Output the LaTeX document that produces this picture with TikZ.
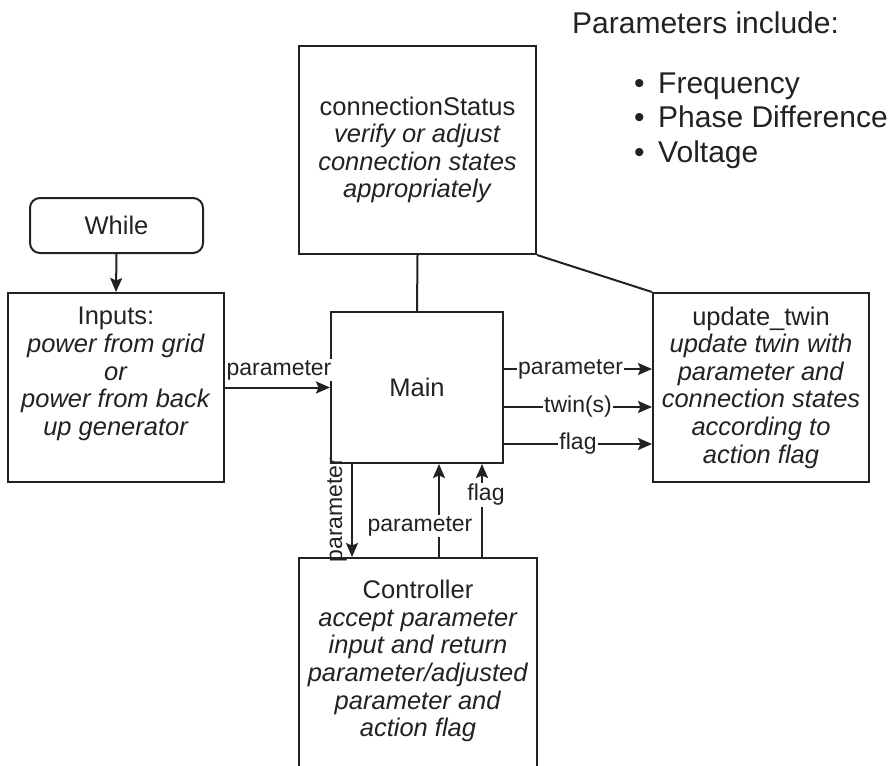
\documentclass[tikz,border=0pt]{standalone}
\usepackage{fontspec}
\setmainfont{Liberation Sans}
\usetikzlibrary{arrows.meta}
\definecolor{ink}{HTML}{222222}
\begin{document}
\begin{tikzpicture}[x=1pt,y=-1pt,
  box/.style={draw=ink, line width=2pt, inner sep=0pt},
  txt/.style={font=\fontsize{25.5}{27.6}\selectfont, align=center, text=ink, inner sep=0pt},
  lbl/.style={font=\fontsize{23}{25}\selectfont, fill=white, inner sep=1pt, text=ink},
  note/.style={font=\fontsize{30}{33}\selectfont, text=ink, anchor=west, inner sep=0pt, text height=21pt, text depth=6pt},
  arr/.style={draw=ink, line width=2pt, -{Stealth[length=14pt,width=12pt,inset=2.5pt]}},
  conn/.style={draw=ink, line width=2pt}]
\useasboundingbox (0,0) rectangle (890,765);

% boxes
\node[box, rounded corners=10pt, minimum width=173, minimum height=55] (while) at (116.5,225.5) {};
\node[txt] (whileT) at (116.5,225.5) {While};

\node[box, minimum width=216, minimum height=189] (inputs) at (116,387.5) {};
\node[txt] (inputsT) at (116,374) {Inputs:\\ \textit{power from grid}\\ \textit{or}\\ \textit{power from back}\\ \textit{up generator}};

\node[box, minimum width=172, minimum height=151] (main) at (417,387.5) {};
\node[txt] (mainT) at (417,387.5) {Main};

\node[box, minimum width=237, minimum height=208] (cs) at (417.5,150) {};
\node[txt] (csT) at (417.5,150) {connectionStatus\\ \textit{verify or adjust}\\ \textit{connection states}\\ \textit{appropriately}};

\node[box, minimum width=216, minimum height=189] (twin) at (761,387.5) {};
\node[txt] (twinT) at (761,387.5) {update\_twin\\ \textit{update twin with}\\ \textit{parameter and}\\ \textit{connection states}\\ \textit{according to}\\ \textit{action flag}};

\node[box, minimum width=238, minimum height=212] (ctrl) at (418,664) {};
\node[txt] (ctrlT) at (418,661) {Controller\\ \textit{accept parameter}\\ \textit{input and return}\\ \textit{parameter/adjusted}\\ \textit{parameter and}\\ \textit{action flag}};

% parameter notes
\node[note] (ph) at (572,26) {Parameters include:};
\node[note] (p1) at (634,86) {\makebox[24pt][l]{•}Frequency};
\node[note] (p2) at (634,120) {\makebox[24pt][l]{•}Phase Difference};
\node[note] (p3) at (634,155) {\makebox[24pt][l]{•}Voltage};

% connectors
\draw[arr] (while.south) -- (inputs.north);
\draw[conn] (cs.south) -- (main.north);
\draw[conn] (cs.south east) -- (twin.north west);

\draw[arr] (inputs.east) -- (main.west);
\node[lbl] (l1) at (279,370) {parameter};

\draw[arr] ([yshift=18.5pt]main.east) -- node[lbl, pos=0.45] (l2) {parameter} ([yshift=18.5pt]twin.west);
\draw[arr] ([yshift=-19.5pt]main.east) -- node[lbl, pos=0.5] (l3) {twin(s)} ([yshift=-19.5pt]twin.west);
\draw[arr] ([yshift=-56.5pt]main.east) -- node[lbl, pos=0.5] (l4) {flag} ([yshift=-56.5pt]twin.west);

\draw[arr] ([xshift=22pt]main.south west) -- ([xshift=22pt]main.south west |- ctrl.north);
\node[lbl, fill=none, rotate=90] (l5) at (337,510) {parameter};

\draw[arr] ([xshift=22pt]main.south |- ctrl.north) -- ([xshift=22pt]main.south);
\node[lbl] (l6) at (420,526) {parameter};

\draw[arr] ([xshift=65pt]main.south |- ctrl.north) -- ([xshift=65pt]main.south);
\node[lbl] (l7) at (486,495) {flag};
\end{tikzpicture}
\end{document}
